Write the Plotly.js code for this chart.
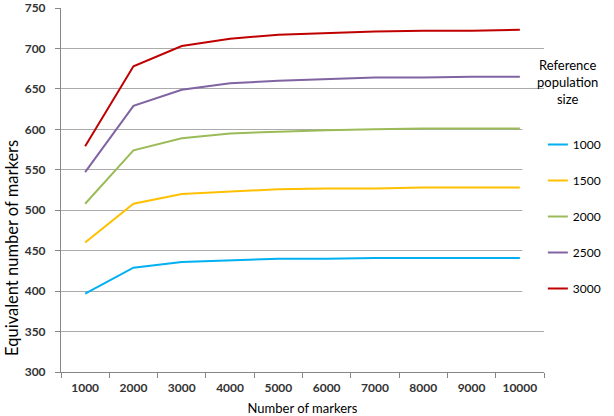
<!DOCTYPE html>
<html>
<head>
<meta charset="utf-8">
<script src="https://cdn.plot.ly/plotly-3.0.1.min.js"></script>
<style>html,body{margin:0;padding:0;background:#fff;}#chart{width:614px;height:416px;}</style>
</head>
<body>
<div id="chart"></div>
<script>
const markers = ["1000","2000","3000","4000","5000","6000","7000","8000","9000","10000"];
const seriesNames = ["1000","1500","2000","2500","3000"];
const ref1000 = [397, 429, 436, 438, 440, 440, 441, 441, 441, 441];
const ref1500 = [460, 508, 520, 523, 526, 527, 527, 528, 528, 528];
const ref2000 = [508, 574, 589, 595, 597, 599, 600, 601, 601, 601];
const ref2500 = [547, 629, 649, 657, 660, 662, 664, 664, 665, 665];
const ref3000 = [579, 678, 703, 712, 717, 719, 721, 722, 722, 723];
const yTicks = [300, 350, 400, 450, 500, 550, 600, 650, 700, 750];

const colors = ["#00B0F0", "#FFC000", "#9BBB59", "#8064A2", "#C00000"];
const values = [ref1000, ref1500, ref2000, ref2500, ref3000];
const FONT = "Lato, 'Open Sans', sans-serif";

const traces = values.map((v, i) => ({
  type: "scatter",
  mode: "lines",
  x: markers,
  y: v,
  name: seriesNames[i],
  legendgroup: "g" + i,
  line: {color: colors[i], width: 2},
  hoverinfo: "skip"
}));

const layout = {
  width: 614,
  height: 416,
  margin: {l: 61, r: 58, t: 8, b: 44},
  paper_bgcolor: "#fff",
  plot_bgcolor: "#fff",
  font: {family: FONT, size: 12, color: "#000"},
  showlegend: true,
  legend: {
    x: 1.008, xanchor: "left",
    y: 0.665, yanchor: "top",
    bgcolor: "rgba(0,0,0,0)",
    traceorder: "grouped",
    tracegroupgap: 17,
    indentation: -15,
    font: {family: FONT, size: 12, color: "#000"}
  },
  xaxis: {
    type: "category",
    range: [-0.5, 9.5],
    showgrid: false,
    showline: true,
    linecolor: "#868686",
    linewidth: 1,
    ticks: "outside",
    tickson: "boundaries",
    ticklen: 5,
    tickcolor: "#868686",
    tickangle: 0,
    ticklabelstandoff: 5,
    tickfont: {family: FONT, size: 12, color: "#333", weight: "bold"},
    title: {text: "Number of markers", font: {family: FONT, size: 13, color: "#000"}, standoff: 14},
    zeroline: false
  },
  yaxis: {
    range: [300, 750],
    tickvals: yTicks,
    showgrid: true,
    gridcolor: "#ABABAB",
    gridwidth: 1,
    showline: true,
    linecolor: "#868686",
    linewidth: 1,
    ticks: "outside",
    ticklen: 5,
    tickcolor: "#868686",
    ticklabelstandoff: 7,
    ticklabeloverflow: "allow",
    tickfont: {family: FONT, size: 12, color: "#333", weight: "bold"},
    zeroline: false
  },
  shapes: [{
    type: "rect", xref: "paper", yref: "paper",
    x0: 0.955, x1: 1.2, y0: 0.155, y1: 0.7275,
    fillcolor: "#fff", line: {width: 0}, layer: "above"
  }],
  annotations: [{
    xref: "paper", yref: "paper",
    x: 1.048, y: 0.797,
    xanchor: "center", yanchor: "middle",
    text: "Reference<br>population<br>size",
    align: "center",
    showarrow: false,
    font: {family: FONT, size: 13, color: "#000"}
  }, {
    xref: "paper", yref: "paper",
    x: -0.1, y: 0.34,
    xanchor: "center", yanchor: "middle",
    textangle: -90,
    text: "Equivalent number of markers",
    showarrow: false,
    font: {family: FONT, size: 16.5, color: "#000"}
  }]
};

Plotly.newPlot("chart", traces, layout, {displayModeBar: false, staticPlot: true});
</script>
</body>
</html>
